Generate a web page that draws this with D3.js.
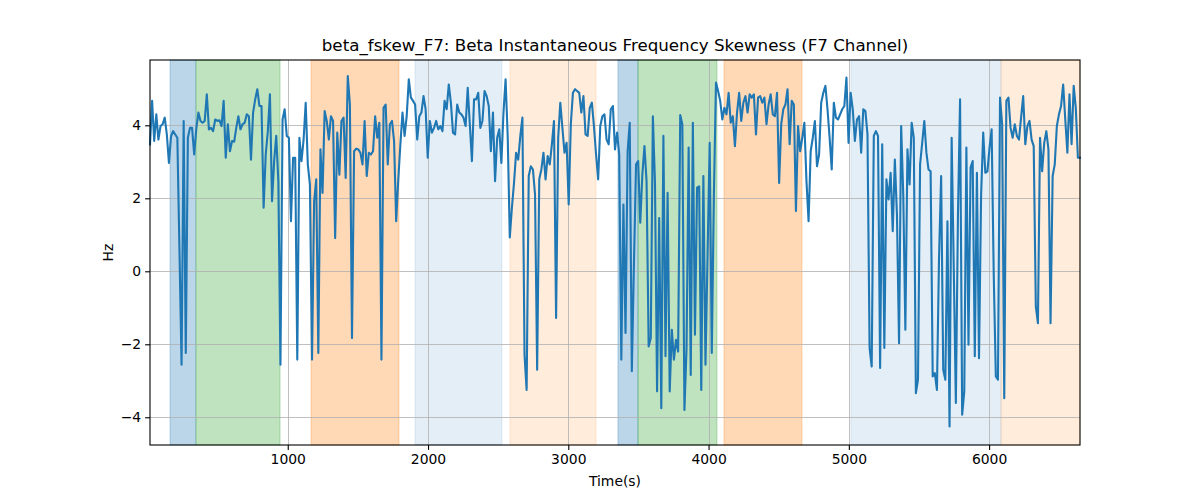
<!DOCTYPE html>
<html><head><meta charset="utf-8">
<script src="https://cdn.jsdelivr.net/npm/d3@7"></script>
<style>body{margin:0;background:#fff} svg{display:block} text{font-family:"DejaVu Sans",sans-serif;fill:#000}</style>
</head><body><svg id="chart" width="1200" height="500"></svg>
<script>
const chartTitle = "beta_fskew_F7: Beta Instantaneous Frequency Skewness (F7 Channel)";
const xLabel = "Time(s)";
const yLabel = "Hz";
const startTime = 18;
const sampleStep = 15;
const skewValues = [
 3.48,4.67,3.57,4.30,3.61,3.98,4.03,4.21,3.75,2.97,3.70,3.84,3.75,3.66,0.60,-2.56,4.12,-2.24,3.66,3.93,3.93,3.20,3.90,4.35,4.12,4.07,4.12,4.85,3.89,3.93,3.84,4.16,4.12,4.14,3.98,4.67,3.11,
 4.03,3.29,3.57,3.55,3.93,4.25,3.89,4.03,4.07,4.30,4.25,3.06,4.35,4.71,4.99,4.53,4.53,1.74,3.20,3.84,4.85,1.92,3.02,3.71,2.47,-2.56,4.16,4.44,3.71,3.66,1.37,3.11,3.11,-2.42,3.66,3.02,3.61,
 4.62,2.93,2.38,-2.42,1.92,2.52,-2.24,3.34,2.15,4.39,4.12,3.61,4.25,4.12,0.91,3.80,2.65,4.12,4.21,2.56,5.35,4.57,-1.83,3.29,3.36,3.34,3.25,2.93,4.12,2.61,3.25,3.20,3.29,4.25,3.66,4.07,-2.42,
 4.48,4.57,2.93,4.03,4.12,3.57,1.37,2.52,3.48,4.35,3.71,4.25,5.26,4.76,4.67,4.57,3.61,4.25,4.35,4.80,4.44,3.11,4.12,3.80,3.93,4.12,3.89,3.98,3.84,4.67,4.44,5.12,4.62,3.80,3.75,4.57,4.35,
 4.30,4.21,3.98,5.03,4.03,3.02,4.71,4.71,4.89,3.93,4.12,4.94,4.80,4.53,3.29,4.35,2.47,3.66,3.89,2.97,4.35,5.26,3.71,0.93,1.74,2.42,3.25,3.06,3.71,4.21,-2.29,-3.25,2.61,2.88,2.79,2.10,-2.70,2.52,
 2.79,3.25,2.52,3.16,2.93,3.48,4.12,-1.28,3.66,4.62,3.93,3.25,3.52,1.83,4.03,4.89,4.99,4.94,4.89,4.35,4.80,3.75,3.71,4.48,4.62,3.98,3.20,2.52,3.98,4.25,4.30,3.61,3.48,4.44,4.53,3.34,3.80,
 3.20,-2.42,1.83,-1.69,3.29,4.07,-2.74,0.20,2.93,3.02,1.33,2.65,3.43,2.47,-2.06,-1.83,4.25,2.42,-3.29,1.46,-3.75,3.71,-2.33,2.15,-3.29,-1.60,-2.42,-1.88,-2.20,4.28,4.03,-3.80,-2.10,3.39,-2.84,4.07,
 -1.74,2.29,2.33,-3.25,2.61,-2.56,0.46,3.52,-2.24,2.10,5.17,4.94,4.67,4.16,4.48,4.30,4.89,4.07,4.25,3.43,4.35,4.89,4.12,4.62,4.80,4.35,4.85,4.76,4.85,3.75,4.76,4.80,4.62,4.76,4.03,4.57,4.85,
 4.30,4.25,4.89,2.42,4.03,4.44,4.57,4.99,3.48,4.67,4.57,1.65,3.98,3.29,3.66,4.07,2.47,1.37,3.29,3.66,4.12,2.88,3.20,4.62,4.89,5.08,4.44,3.66,2.79,4.62,4.21,4.16,4.30,4.44,4.53,5.31,3.52,
 4.89,4.44,3.57,4.16,4.25,3.25,4.44,4.39,3.75,-2.10,-2.61,3.71,3.84,3.71,-2.65,3.48,-2.10,2.52,1.97,2.70,1.10,3.06,1.56,-1.97,3.98,2.10,-1.60,3.34,2.38,4.07,3.66,-3.34,-2.97,2.93,3.52,4.12,3.25,2.79,
 2.74,-2.88,-2.79,-3.25,0.37,2.61,-2.70,-2.97,1.37,-4.25,3.66,0.09,-3.61,1.56,4.71,-3.93,-3.29,3.39,-2.01,2.84,3.02,-2.33,2.70,-2.38,2.10,3.80,2.70,2.74,3.39,3.89,-0.09,-2.88,-2.97,4.76,4.03,-3.48,4.67,4.76,
 3.93,3.66,4.03,3.71,3.61,4.21,4.80,3.48,3.98,4.12,3.61,3.43,-0.96,-1.42,3.66,2.74,3.52,3.84,3.34,-1.42,2.61,2.93,3.98,4.30,4.53,5.12,4.16,3.25,4.85,3.48,5.08,4.48,3.11,3.11
];
const regionStarts = [161, 346, 1166, 1907, 2584, 3354, 3497, 4110, 5015, 6085];
const regionEnds   = [344, 945, 1793, 2527, 3198, 3497, 4060, 4666, 6085, 6648];
const regionColors = ["#1f77b4","#2ca02c","#ff7f0e","#1f77b4","#ff7f0e","#1f77b4","#2ca02c","#ff7f0e","#1f77b4","#ff7f0e"];
const regionAlphas = [0.3, 0.3, 0.3, 0.12, 0.15, 0.3, 0.3, 0.3, 0.12, 0.15];
const xTicks = [1000, 2000, 3000, 4000, 5000, 6000];
const yTicks = [-4, -2, 0, 2, 4];
const yDomain = [-4.76, 5.79];

const times = skewValues.map((v, i) => startTime + i * sampleStep);
const data = times.map((t, i) => ({t, v: skewValues[i]}));

const svg = d3.select("#chart");
const L = 150, R = 1080, T = 60, B = 445;
const x = d3.scaleLinear().domain([times[0], times[times.length - 1]]).range([L, R]);
const y = d3.scaleLinear().domain(yDomain).range([B, T]);

const regions = regionStarts.map((s, i) => ({s, e: regionEnds[i], c: regionColors[i], a: regionAlphas[i]}));
svg.append("g").selectAll("rect").data(regions).join("rect")
  .attr("x", d => x(d.s)).attr("width", d => x(d.e) - x(d.s))
  .attr("y", T).attr("height", B - T)
  .attr("fill", d => d.c).attr("fill-opacity", d => d.a)
  .attr("stroke", d => d.c).attr("stroke-opacity", d => d.a).attr("stroke-width", 1);

// grid
const grid = svg.append("g").attr("stroke", "#b0b0b0").attr("stroke-width", 0.8);
grid.selectAll(".gx").data(xTicks).join("line")
  .attr("x1", d => Math.round(x(d)) + 0.5).attr("x2", d => Math.round(x(d)) + 0.5)
  .attr("y1", T).attr("y2", B);
grid.selectAll(".gy").data(yTicks).join("line")
  .attr("y1", d => Math.round(y(d)) + 0.5).attr("y2", d => Math.round(y(d)) + 0.5)
  .attr("x1", L).attr("x2", R);

// line
svg.append("path").datum(data)
  .attr("fill", "none").attr("stroke", "#1f77b4").attr("stroke-width", 2.1)
  .attr("stroke-linejoin", "round").attr("stroke-linecap", "square")
  .attr("d", d3.line().x(d => x(d.t)).y(d => y(d.v)));

// axes
const fmt = d => d < 0 ? "\u2212" + Math.abs(d) : String(d);
const xAxis = svg.append("g").attr("transform", `translate(0,${B})`)
  .call(d3.axisBottom(x).tickValues(xTicks).tickFormat(fmt).tickSizeOuter(0).tickSize(4.9).tickPadding(4));
const yAxis = svg.append("g").attr("transform", `translate(${L},0)`)
  .call(d3.axisLeft(y).tickValues(yTicks).tickFormat(fmt).tickSizeOuter(0).tickSize(4.9).tickPadding(4));
[xAxis, yAxis].forEach(a => {
  a.select(".domain").remove();
  a.selectAll("line").attr("stroke", "#000").attr("stroke-width", 1.1);
  a.selectAll("text").attr("font-family", "DejaVu Sans").attr("font-size", 13.9).attr("fill", "#000");
});
xAxis.selectAll("text").attr("dy", "0.71em").attr("y", 9.6);

// spines
svg.append("rect").attr("x", L).attr("y", T).attr("width", R - L).attr("height", B - T)
  .attr("fill", "none").attr("stroke", "#000").attr("stroke-width", 1.1);

svg.append("text").attr("x", (L + R) / 2).attr("y", 51).attr("text-anchor", "middle")
  .attr("font-size", 16.7).text(chartTitle);
svg.append("text").attr("x", (L + R) / 2).attr("y", 486).attr("text-anchor", "middle")
  .attr("font-size", 13.9).text(xLabel);
svg.append("text").attr("transform", `translate(113,${(T + B) / 2}) rotate(-90)`)
  .attr("text-anchor", "middle").attr("font-size", 13.9).text(yLabel);
</script></body></html>
